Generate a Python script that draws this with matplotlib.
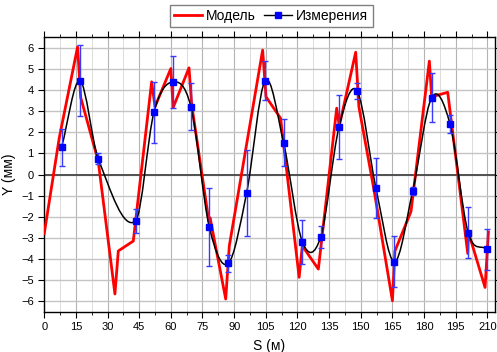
import numpy as np
import matplotlib
matplotlib.use('Agg')
import matplotlib.pyplot as plt
from matplotlib.path import Path
from matplotlib.patches import PathPatch
from matplotlib.lines import Line2D

plt.rcParams['font.family'] = ['Liberation Sans', 'DejaVu Sans']

# model (red line) vertices
model_s = [0, 7.1, 15.8, 17.3, 25.6, 33.5, 35.1, 42.2, 50.9, 52.5, 60.0, 61.1,
           68.6, 69.9, 78.0, 78.6, 86.0, 87.7, 103.5, 105.1, 112.0, 120.8,
           122.3, 129.9, 138.6, 139.8, 147.6, 149.1, 156.4, 165.0, 166.2,
           173.8, 182.5, 183.6, 191.2, 200.7, 201.0, 208.9, 210.5]
model_y = [-2.8, 1.73, 6.05, 3.65, 0.63, -5.66, -3.62, -3.15, 4.4, 3.22, 5.03, 3.18,
           5.06, 3.3, -2.2, -2.05, -5.9, -3.38, 5.9, 3.69, 2.67, -4.87,
           -3.38, -4.48, 3.15, 2.3, 5.8, 3.22, -0.8, -5.98, -3.62,
           -1.75, 5.38, 3.69, 3.9, -3.74, -2.72, -5.35, -2.72]

# measurements (blue squares with error bars)
meas_s = [8.2, 16.9, 25.6, 43.3, 52.0, 60.8, 69.5, 78.2, 87.2, 95.9, 104.7,
          113.4, 122.3, 131.0, 139.7, 148.3, 157.2, 165.9, 174.6, 183.6,
          192.3, 200.9, 209.7]
meas_y = [1.29, 4.45, 0.74, -2.2, 2.96, 4.39, 3.22, -2.48, -4.21, -0.87, 4.45,
          1.52, -3.18, -2.96, 2.26, 3.96, -0.64, -4.13, -0.78, 3.65,
          2.39, -2.75, -3.54]
meas_err = [0.89, 1.69, 0.26, 0.58, 1.44, 1.22, 1.1, 1.83, 0.41, 2.05, 0.92,
            1.12, 1.05, 0.5, 1.5, 0.37, 1.44, 1.22, 0.2, 1.18,
            0.43, 1.22, 0.98]


def spline_path(x, y):
    # smooth (catmull-rom style) connection drawn as bezier segments
    x = np.asarray(x, float)
    y = np.asarray(y, float)
    n = len(x)
    h = np.diff(x)
    m = np.zeros(n)
    m[0] = (y[1] - y[0]) / h[0]
    m[-1] = (y[-1] - y[-2]) / h[-1]
    for i in range(1, n - 1):
        m[i] = (y[i + 1] - y[i - 1]) / (x[i + 1] - x[i - 1])
    verts = [(x[0], y[0])]
    codes = [Path.MOVETO]
    for i in range(n - 1):
        verts += [(x[i] + h[i] / 3, y[i] + m[i] * h[i] / 3),
                  (x[i + 1] - h[i] / 3, y[i + 1] - m[i + 1] * h[i] / 3),
                  (x[i + 1], y[i + 1])]
        codes += [Path.CURVE4] * 3
    return Path(verts, codes)


fig = plt.figure(figsize=(4.97, 3.52), dpi=100)
ax = fig.add_axes([0.089, 0.1145, 0.9065, 0.779])

ax.set_xlim(0, 213.5)
ax.set_ylim(-6.5, 6.5)

ax.set_xticks(np.arange(0, 211, 15))
ax.set_xticks(np.arange(7.5, 211, 15), minor=True)
ax.set_yticks(np.arange(-6, 7, 1))

ax.grid(which='major', axis='x', color='#b4b4b4', lw=0.8)
ax.grid(which='minor', axis='x', color='#dcdcdc', lw=0.7)
ax.grid(which='major', axis='y', color='#c4c4c4', lw=1.0)
ax.set_axisbelow(True)

ax.axhline(0, color='#505050', lw=1.4, zorder=1)

ax.plot(model_s, model_y, color='#ff0000', lw=2, zorder=3)

ax.add_patch(PathPatch(spline_path(meas_s, meas_y), fill=False,
                       edgecolor='black', lw=1.1, zorder=4))
ax.errorbar(meas_s, meas_y, yerr=meas_err, fmt='none', ecolor='#3a3aff',
            elinewidth=1, capsize=2.5, capthick=1, zorder=5)
ax.plot(meas_s, meas_y, 's', color='#0000ff', ms=5, zorder=6)

ax.tick_params(axis='both', which='major', labelsize=8, length=4, width=0.8,
               top=True, right=True)
ax.tick_params(axis='x', which='minor', length=2, width=0.6, top=True)
for sp in ax.spines.values():
    sp.set_linewidth(1)

ax.set_xlabel('S (м)', fontsize=10, labelpad=5)
ax.set_ylabel('Y (мм)', fontsize=10, labelpad=4)

handles = [Line2D([], [], color='#ff0000', lw=2),
           Line2D([], [], color='black', lw=1, marker='s', ms=5,
                  markerfacecolor='#0000ff', markeredgecolor='#0000ff')]
fig.legend(handles, ['Модель', 'Измерения'], loc='center',
           bbox_to_anchor=(0.546, 0.955), ncol=2, fontsize=10,
           fancybox=False, framealpha=1, edgecolor='#808080',
           handlelength=2, columnspacing=0.6, handletextpad=0.3,
           borderpad=0.3, borderaxespad=0)

fig.savefig('out.png', dpi=100)
